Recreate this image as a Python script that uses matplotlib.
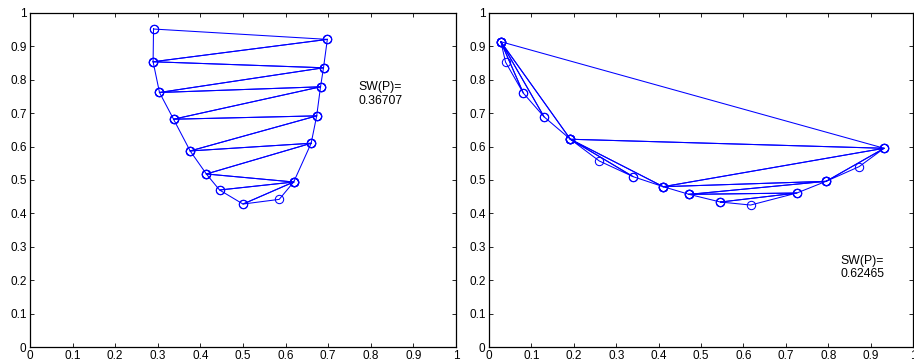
import matplotlib
matplotlib.use('Agg')
import matplotlib.pyplot as plt
from matplotlib.ticker import FuncFormatter

plt.rcParams['font.family'] = ['Liberation Sans', 'DejaVu Sans']

# Left panel: points and the triangles drawn between them
left_x = [0.290, 0.698, 0.289, 0.689, 0.304, 0.682, 0.337, 0.673,
          0.376, 0.660, 0.414, 0.619, 0.445, 0.500, 0.585]
left_y = [0.952, 0.921, 0.854, 0.836, 0.762, 0.779, 0.682, 0.692,
          0.587, 0.610, 0.518, 0.494, 0.470, 0.428, 0.442]
left_tris = [(0, 1, 2), (1, 2, 3), (2, 3, 4), (3, 4, 5), (4, 5, 6),
             (5, 6, 7), (6, 7, 8), (7, 8, 9), (8, 9, 10), (9, 10, 11),
             (10, 11, 12), (11, 12, 13), (11, 13, 14)]
left_label = 'SW(P)=\n0.36707'

# Right panel
right_x = [0.028, 0.039, 0.081, 0.130, 0.192, 0.260, 0.340, 0.411,
           0.472, 0.546, 0.617, 0.726, 0.795, 0.873, 0.932]
right_y = [0.914, 0.853, 0.760, 0.689, 0.622, 0.557, 0.510, 0.480,
           0.457, 0.434, 0.425, 0.461, 0.496, 0.540, 0.595]
right_tris = [(0, 1, 2), (0, 2, 3), (0, 3, 4), (0, 4, 14), (4, 5, 6),
              (4, 6, 7), (4, 7, 14), (7, 8, 12), (8, 11, 12), (8, 9, 11),
              (9, 10, 11), (7, 12, 14), (12, 13, 14)]
right_label = 'SW(P)=\n0.62465'

ticks = [0, 0.1, 0.2, 0.3, 0.4, 0.5, 0.6, 0.7, 0.8, 0.9, 1]

fig = plt.figure(figsize=(9.14, 3.64), dpi=100)
ax1 = fig.add_axes([0.0328, 0.0467, 0.4661, 0.9176])
ax2 = fig.add_axes([0.5350, 0.0467, 0.4639, 0.9176])


def draw_panel(ax, xs, ys, tris, label, lx, ly):
    # each triangle drawn as its own closed polygon, like the original
    for t in tris:
        idx = list(t) + [t[0]]
        ax.plot([xs[i] for i in idx], [ys[i] for i in idx], color='#0000ff',
                lw=0.75, marker='o', ms=6, mfc='none', mec='#0000ff', mew=0.75)
    ax.text(lx, ly, label, fontsize=8.8, va='top', ha='left', linespacing=1.15)
    ax.set_xlim(0, 1)
    ax.set_ylim(0, 1)
    ax.set_xticks(ticks)
    ax.set_yticks(ticks)
    fmt = FuncFormatter(lambda v, p: '%g' % v)
    ax.xaxis.set_major_formatter(fmt)
    ax.yaxis.set_major_formatter(fmt)
    ax.tick_params(direction='in', length=3, width=0.6, labelsize=8.5,
                   top=True, right=True, pad=2.5)
    for s in ax.spines.values():
        s.set_linewidth(0.9)


draw_panel(ax1, left_x, left_y, left_tris, left_label, 0.772, 0.795)
draw_panel(ax2, right_x, right_y, right_tris, right_label, 0.828, 0.275)

plt.savefig('out.png', dpi=100)
